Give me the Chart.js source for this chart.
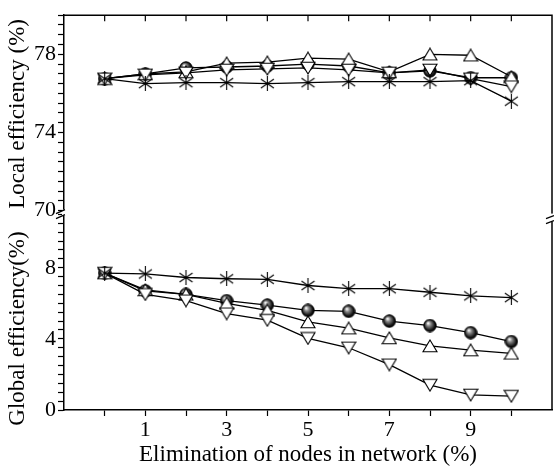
<!DOCTYPE html>
<html>
<head>
<script src="https://cdn.jsdelivr.net/npm/chart.js@4"></script>
<style>
  html, body { margin: 0; padding: 0; background: #fff; }
</style>
</head>
<body>
<canvas id="chart" width="554" height="469"></canvas>
<script>
// percentage of nodes removed
const removal = [0, 1, 2, 3, 4, 5, 6, 7, 8, 9, 10];

// local efficiency (%), top panel
const localStar = [76.75, 76.5, 76.55, 76.55, 76.5, 76.55, 76.6, 76.6, 76.6, 76.65, 75.6];
const localBall = [76.75, 77.0, 77.3, 77.35, 77.4, 77.5, 77.4, 77.05, 77.15, 76.8, 76.8];
const localUp   = [76.75, 77.0, 77.1, 77.55, 77.6, 77.8, 77.75, 77.1, 78.0, 77.95, 76.85];
const localDown = [76.75, 76.95, 77.05, 77.2, 77.25, 77.3, 77.2, 77.05, 77.2, 76.75, 76.35];

// global efficiency (%), bottom panel
const globalStar = [7.7, 7.65, 7.45, 7.38, 7.35, 7.0, 6.82, 6.82, 6.62, 6.42, 6.32];
const globalBall = [7.7, 6.7, 6.5, 6.15, 5.9, 5.6, 5.55, 5.0, 4.75, 4.35, 3.85];
const globalUp   = [7.7, 6.75, 6.5, 6.0, 5.6, 4.95, 4.6, 4.05, 3.6, 3.37, 3.18];
const globalDown = [7.7, 6.5, 6.15, 5.42, 5.05, 4.03, 3.5, 2.55, 1.4, 0.85, 0.78];

// labelled ticks
const xLabels = [1, 3, 5, 7, 9];
const localLabels = [70, 74, 78];
const globalLabels = [0, 4, 8];

const tickFont = { family: 'Liberation Serif', size: 22 };
const titleFont = { family: 'Liberation Serif', size: 23 };

function marker(w, h, draw) {
    const c = document.createElement('canvas');
    c.width = w; c.height = h;
    draw(c.getContext('2d'));
    return c;
}

const ball = marker(14, 14, g => {
    const grd = g.createRadialGradient(5, 4.5, 0.3, 7, 7, 7);
    grd.addColorStop(0, '#fff');
    grd.addColorStop(0.3, '#888');
    grd.addColorStop(0.75, '#111');
    grd.addColorStop(1, '#000');
    g.fillStyle = grd;
    g.beginPath(); g.arc(7, 7, 6.2, 0, Math.PI * 2); g.fill();
    g.strokeStyle = '#000'; g.lineWidth = 1; g.stroke();
});
const triUp = marker(16, 14, g => {
    g.beginPath(); g.moveTo(8, 1); g.lineTo(15, 12.8); g.lineTo(1, 12.8); g.closePath();
    g.fillStyle = '#fff'; g.fill();
    g.strokeStyle = '#000'; g.lineWidth = 1.1; g.stroke();
});
const triDown = marker(16, 14, g => {
    g.beginPath(); g.moveTo(8, 13); g.lineTo(15, 1.2); g.lineTo(1, 1.2); g.closePath();
    g.fillStyle = '#fff'; g.fill();
    g.strokeStyle = '#000'; g.lineWidth = 1.1; g.stroke();
});
const star = marker(15, 15, g => {
    g.strokeStyle = '#000'; g.lineWidth = 1.1;
    g.beginPath();
    g.moveTo(7.5, 0); g.lineTo(7.5, 15);
    g.moveTo(1, 3); g.lineTo(14, 12);
    g.moveTo(1, 12); g.lineTo(14, 3);
    g.stroke();
});

function series(vals, style, axis) {
    return {
        data: vals.map((v, i) => ({ x: removal[i], y: v })),
        yAxisID: axis,
        pointStyle: style,
        pointRadius: 7,
        pointHoverRadius: 7,
        borderColor: '#000',
        backgroundColor: '#000',
        borderWidth: 1.3,
        tension: 0,
        fill: false
    };
}

function halfSteps(lo, hi) {
    const t = [];
    for (let v = lo; v <= hi + 1e-9; v += 0.5) t.push({ value: v });
    return t;
}

function yAxis(lo, hi, labels, title) {
    return {
        type: 'linear',
        position: 'left',
        stack: 'eff',
        stackWeight: 1,
        min: lo,
        max: hi,
        afterBuildTicks: ax => { ax.ticks = halfSteps(Math.ceil(lo), Math.floor(hi)); },
        afterFit: ax => { ax.width = 64; },
        ticks: {
            autoSkip: false,
            color: '#000',
            font: tickFont,
            padding: 2,
            callback: v => labels.includes(v) ? String(v) : ''
        },
        grid: { drawOnChartArea: false, tickLength: 6, tickColor: '#000', tickWidth: 1.2 },
        border: { color: '#000', width: 1.5 },
        title: { display: true, text: title, color: '#000', font: titleFont, padding: { top: 4, bottom: 0 } }
    };
}

// frame, inward top ticks and axis break marks
const frame = {
    id: 'frame',
    afterDraw(chart) {
        const { ctx, chartArea: a, scales } = chart;
        ctx.save();
        ctx.strokeStyle = '#000';
        ctx.lineWidth = 1.5;
        ctx.beginPath();
        ctx.moveTo(a.left, a.top); ctx.lineTo(a.right, a.top); ctx.lineTo(a.right, a.bottom);
        ctx.stroke();
        ctx.lineWidth = 1.2;
        ctx.beginPath();
        removal.forEach(v => {
            const px = scales.x.getPixelForValue(v);
            ctx.moveTo(px, a.top); ctx.lineTo(px, a.top + 6);
        });
        ctx.stroke();

        const yb = scales.yTop.bottom;
        ctx.fillStyle = '#fff';
        ctx.fillRect(a.left - 2, yb - 3, 4, 6);
        ctx.fillRect(a.right - 2, yb + 1, 4, 8);
        ctx.lineWidth = 1.3;
        ctx.beginPath();
        ctx.moveTo(a.left - 8, yb + 1); ctx.lineTo(a.left + 1, yb - 3);
        ctx.moveTo(a.left - 8, yb + 6); ctx.lineTo(a.left + 1, yb + 2);
        ctx.moveTo(a.right - 6, yb + 6); ctx.lineTo(a.right + 2, yb + 3);
        ctx.moveTo(a.right - 6, yb + 11); ctx.lineTo(a.right + 2, yb + 8);
        ctx.stroke();
        ctx.restore();
    }
};

new Chart(document.getElementById('chart'), {
    type: 'line',
    data: {
        datasets: [
            series(localStar, star, 'yTop'),
            series(localDown, triDown, 'yTop'),
            series(localUp, triUp, 'yTop'),
            series(localBall, ball, 'yTop'),
            series(globalStar, star, 'yBot'),
            series(globalDown, triDown, 'yBot'),
            series(globalUp, triUp, 'yBot'),
            series(globalBall, ball, 'yBot')
        ]
    },
    options: {
        responsive: false,
        animation: false,
        devicePixelRatio: 1,
        events: [],
        layout: { autoPadding: false, padding: { left: 0, top: 10, right: 2, bottom: 0 } },
        plugins: { legend: { display: false }, tooltip: { enabled: false } },
        scales: {
            x: {
                type: 'linear',
                position: 'bottom',
                min: -1,
                max: 11,
                afterBuildTicks: ax => { ax.ticks = removal.map(v => ({ value: v })); },
                afterFit: ax => { ax.height = 59; },
                ticks: {
                    autoSkip: false,
                    maxRotation: 0,
                    color: '#000',
                    font: tickFont,
                    padding: 1,
                    callback: v => xLabels.includes(v) ? String(v) : ''
                },
                grid: { drawOnChartArea: false, tickLength: 6, tickColor: '#000', tickWidth: 1.2 },
                border: { color: '#000', width: 1.5 },
                title: {
                    display: true,
                    text: 'Elimination of nodes in network (%)',
                    color: '#000',
                    font: titleFont,
                    padding: { top: 0, bottom: 0 }
                }
            },
            // en spaces at the end push the rotated title down a little
            yBot: yAxis(0, 11.1, globalLabels, 'Global efficiency(%)\u2002\u2002\u2002'),
            yTop: yAxis(69.9, 80, localLabels, 'Local efficiency (%)')
        }
    },
    plugins: [frame]
});
</script>
</body>
</html>
